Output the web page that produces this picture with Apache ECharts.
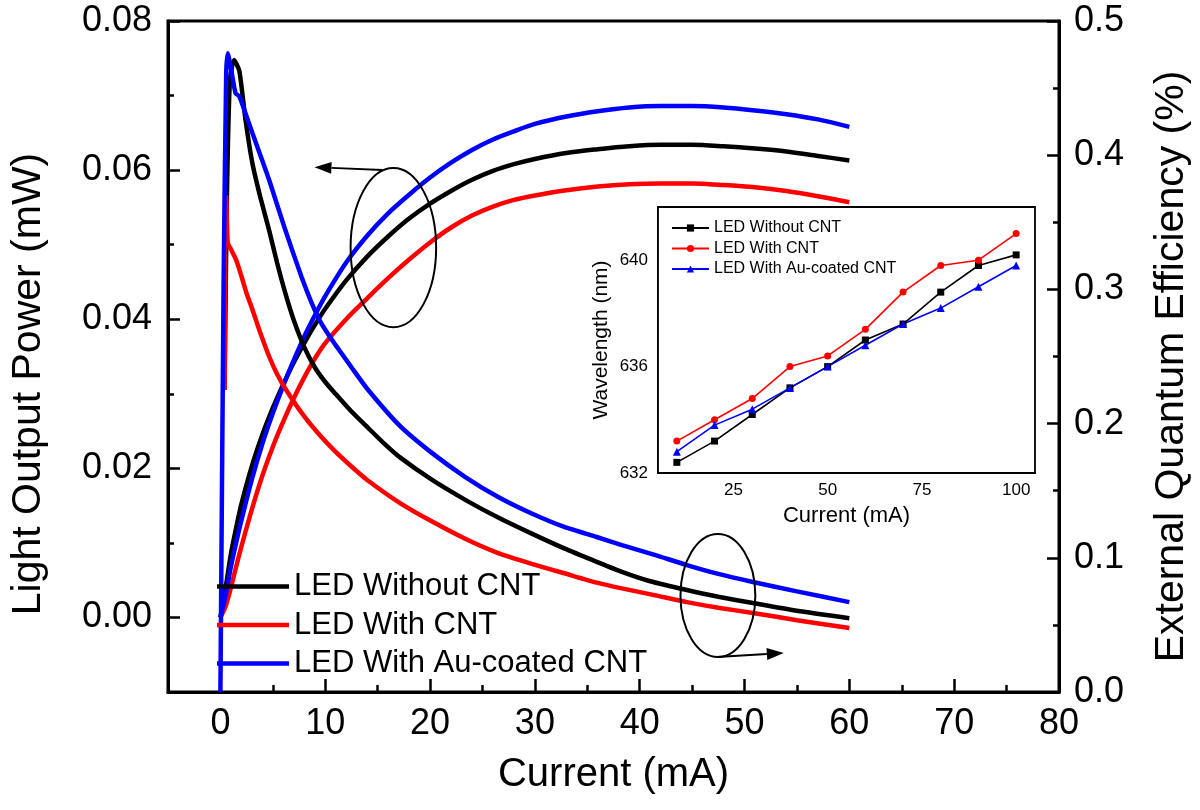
<!DOCTYPE html>
<html>
<head>
<meta charset="utf-8">
<script src="https://cdn.jsdelivr.net/npm/echarts@6/dist/echarts.min.js"></script>
<style>
  html, body { margin: 0; padding: 0; background: #fff; }
  #main { width: 1200px; height: 810px; }
</style>
</head>
<body>
<div id="main"></div>
<script>
var chartDom = document.getElementById('main');
var myChart = echarts.init(chartDom);

var FONT = "'Liberation Sans', Arial, Helvetica, sans-serif";
var names = ['LED Without CNT', 'LED With CNT', 'LED With Au-coated CNT'];
var colors = ['#000000', '#ff0000', '#0000ff'];

// light output power (left axis), shared current values
var powerCurrent = [0, 0.5, 1, 1.5, 2, 3, 4, 5, 6, 7, 8, 9, 10, 12, 14, 16, 18, 20, 22, 24, 26, 28, 30, 33, 36, 39, 42, 45, 48, 51, 54, 57, 60];
var powerBlack = [0, 0.004, 0.0085, 0.012, 0.0152, 0.0203, 0.0245, 0.0281, 0.0313, 0.0342, 0.0368, 0.0392, 0.0414, 0.0452, 0.0484, 0.0511, 0.0535, 0.0555, 0.0572, 0.0587, 0.0599, 0.0608, 0.0615, 0.0623, 0.0628, 0.0632, 0.0634, 0.0634, 0.0632, 0.0629, 0.0625, 0.0619, 0.0613];
var powerRed = [0, 0.0015, 0.004, 0.0068, 0.0095, 0.0145, 0.019, 0.0229, 0.0263, 0.0294, 0.0322, 0.0347, 0.0368, 0.0400, 0.0428, 0.0455, 0.0480, 0.0503, 0.0523, 0.0539, 0.0551, 0.0560, 0.0566, 0.0573, 0.0578, 0.0581, 0.0582, 0.0582, 0.0580, 0.0577, 0.0572, 0.0565, 0.0557];
var powerBlue = [0, 0.003, 0.0068, 0.0100, 0.0130, 0.0185, 0.0233, 0.0274, 0.0311, 0.0345, 0.0377, 0.0405, 0.0431, 0.0476, 0.0512, 0.0542, 0.0567, 0.0590, 0.0610, 0.0627, 0.0641, 0.0652, 0.0662, 0.0672, 0.0679, 0.0684, 0.0686, 0.0686, 0.0684, 0.0680, 0.0675, 0.0668, 0.0658];

// external quantum efficiency (right axis)
var eqeBlackX = [0.4, 0.6, 0.9, 1.3, 1.8, 2.4, 3.05, 3.8, 4.65, 5.4, 6.2, 7.0, 8.0, 9.0, 10.0, 11.0, 12.5, 14, 15.5, 17.1, 20.2, 23.4, 26.5, 29.7, 32.8, 35.9, 38.3, 41, 44.5, 47.5, 50.8, 55, 60];
var eqeBlackY = [0.225, 0.36, 0.455, 0.471, 0.463, 0.426, 0.394, 0.369, 0.344, 0.32, 0.297, 0.277, 0.257, 0.242, 0.231, 0.222, 0.209, 0.1975, 0.186, 0.175, 0.158, 0.143, 0.13, 0.118, 0.107, 0.097, 0.0895, 0.0825, 0.076, 0.071, 0.0663, 0.0605, 0.055];
var eqeRedX = [0.4, 0.45, 0.55, 0.7, 1.0, 1.5, 2.0, 2.5, 3.05, 3.7, 4.65, 5.4, 6.2, 7.75, 9.3, 10.85, 12.5, 14, 17.1, 20.2, 23.4, 26.5, 29.7, 32.8, 35.9, 38.3, 41.5, 44.5, 47.5, 50.8, 55, 60];
var eqeRedY = [0.225, 0.33, 0.369, 0.335, 0.33, 0.322, 0.31, 0.297, 0.285, 0.27, 0.25, 0.237, 0.226, 0.208, 0.193, 0.18, 0.168, 0.158, 0.141, 0.127, 0.114, 0.1035, 0.0955, 0.0885, 0.0815, 0.0772, 0.072, 0.067, 0.0628, 0.0589, 0.0535, 0.0477];
var eqeBlueX = [0, 0.3, 0.55, 0.7, 1.0, 1.45, 1.8, 2.4, 3.05, 4.65, 6.2, 7.75, 8.7, 9.6, 10.85, 12.5, 14, 17.1, 20.2, 23.4, 26.5, 29.7, 32.8, 35.9, 38.3, 41.5, 44.5, 47.5, 50.8, 55, 60];
var eqeBlueY = [0, 0.3, 0.46, 0.476, 0.465, 0.446, 0.444, 0.431, 0.4165, 0.3815, 0.344, 0.309, 0.29, 0.275, 0.26, 0.242, 0.226, 0.1985, 0.178, 0.16, 0.1453, 0.133, 0.123, 0.1155, 0.1095, 0.102, 0.0946, 0.088, 0.082, 0.075, 0.067];

// inset: peak wavelength vs current
var insetCurrent = [10, 20, 30, 40, 50, 60, 70, 80, 90, 100];
var insetBlack = [632.4, 633.2, 634.2, 635.2, 636.0, 637.0, 637.6, 638.8, 639.8, 640.2];
var insetRed = [633.2, 634.0, 634.8, 636.0, 636.4, 637.4, 638.8, 639.8, 640.0, 641.0];
var insetBlue = [632.8, 633.8, 634.4, 635.2, 636.0, 636.8, 637.6, 638.2, 639.0, 639.8];
var insetSymbols = ['rect', 'circle', 'triangle'];

// tick labels
var mainXTicks = [0, 10, 20, 30, 40, 50, 60, 70, 80];
var mainXMinor = [5, 15, 25, 35, 45, 55, 65, 75];
var powerTicks = [0, 0.02, 0.04, 0.06, 0.08];
var powerMinor = [0.01, 0.03, 0.05, 0.07];
var insetXTicks = [25, 50, 75, 100];
var insetXMinor = [12.5, 37.5, 62.5, 87.5];
var insetYTicks = [632, 636, 640];
var insetYMinor = [634, 638];

function zip(xs, ys) { //配对数据
    var out = [];
    for (var i = 0; i < xs.length; i++) {
        out.push([xs[i], ys[i]]);
    }
    return out;
}

var lbl = { color: '#000', fontFamily: FONT };
function minorAxis(base, vals, len, width) { //只画次刻度的辅助轴
    return Object.assign({
        type: 'value',
        axisLine: { show: false, onZero: false },
        axisTick: { show: true, inside: true, length: len, customValues: vals, lineStyle: { color: '#000', width: width } },
        axisLabel: { show: false },
        splitLine: { show: false }
    }, base);
}

var series = [];
var powerData = [powerBlack, powerRed, powerBlue];
for (var i = 0; i < 3; i++) {
    series.push({
        name: names[i], type: 'line', xAxisIndex: 0, yAxisIndex: 0,
        data: zip(powerCurrent, powerData[i]), symbol: 'none', smooth: 0.3,
        color: colors[i], lineStyle: { color: colors[i], width: 4.5 }, z: 3
    });
}
var eqeData = [[eqeBlackX, eqeBlackY], [eqeRedX, eqeRedY], [eqeBlueX, eqeBlueY]];
for (var i = 0; i < 3; i++) {
    series.push({
        name: names[i], type: 'line', xAxisIndex: 0, yAxisIndex: 2,
        data: zip(eqeData[i][0], eqeData[i][1]), symbol: 'none', smooth: 0.2,
        color: colors[i], lineStyle: { color: colors[i], width: 4.5 }, z: 3
    });
}
var insetData = [insetBlack, insetRed, insetBlue];
for (var i = 0; i < 3; i++) {
    series.push({
        name: 'inset|' + names[i], type: 'line', xAxisIndex: 2, yAxisIndex: 3,
        data: zip(insetCurrent, insetData[i]), symbol: insetSymbols[i], symbolSize: i == 2 ? 8 : 7,
        showSymbol: true, color: colors[i], lineStyle: { color: colors[i], width: 1.6 }, z: 5
    });
}

var option = {
    animation: false,
    backgroundColor: '#fff',
    grid: [
        { left: 162, right: 136, top: 21, bottom: 118, show: true, borderColor: '#000', borderWidth: 3, backgroundColor: 'transparent' },
        { left: 658, right: 165, top: 207, bottom: 337, show: true, borderColor: '#000', borderWidth: 1.8, backgroundColor: '#fff', z: 4 }
    ],
    legend: [
        {
            data: names, left: 217, top: 571, orient: 'vertical', icon: 'rect',
            itemWidth: 72, itemHeight: 4.5, itemGap: 7.5, padding: 0,
            textStyle: { fontSize: 31, lineHeight: 31, color: '#000', fontFamily: FONT }
        },
        {
            data: names.map(function(n) { return 'inset|' + n; }), left: 671, top: 220, orient: 'vertical',
            itemWidth: 37, itemHeight: 9, itemGap: 4.5, padding: 0, z: 6,
            formatter: function(n) { return n.replace('inset|', ''); },
            textStyle: { fontSize: 16, lineHeight: 16, color: '#000', fontFamily: FONT }
        }
    ],
    xAxis: [
        {
            type: 'value', gridIndex: 0, min: -5, max: 80, position: 'bottom',
            name: 'Current (mA)', nameLocation: 'middle', nameGap: 63,
            nameTextStyle: { fontSize: 40, color: '#000', fontFamily: FONT },
            axisLine: { show: true, onZero: false, lineStyle: { color: '#000', width: 3 } },
            axisTick: { show: true, inside: true, length: 13, customValues: mainXTicks, lineStyle: { color: '#000', width: 2.5 } },
            axisLabel: Object.assign({ fontSize: 36, margin: 14, customValues: mainXTicks }, lbl),
            splitLine: { show: false }
        },
        minorAxis({ gridIndex: 0, min: -5, max: 80, position: 'bottom' }, mainXMinor, 7, 2.5),
        {
            type: 'value', gridIndex: 1, min: 5, max: 105, position: 'bottom',
            name: 'Current (mA)', nameLocation: 'middle', nameGap: 32,
            nameTextStyle: { fontSize: 22, color: '#000', fontFamily: FONT },
            axisLine: { show: true, onZero: false, lineStyle: { color: '#000', width: 1.8 } },
            axisTick: { show: true, inside: true, length: 8, customValues: insetXTicks, lineStyle: { color: '#000', width: 1.5 } },
            axisLabel: Object.assign({ fontSize: 17, margin: 9, customValues: insetXTicks }, lbl),
            splitLine: { show: false }
        },
        minorAxis({ gridIndex: 1, min: 5, max: 105, position: 'bottom' }, insetXMinor, 4, 1.5)
    ],
    yAxis: [
        {
            type: 'value', gridIndex: 0, min: -0.01, max: 0.08, position: 'left',
            name: 'Light Output Power (mW)', nameLocation: 'middle', nameGap: 119, nameRotate: 90,
            nameTextStyle: { fontSize: 41, color: '#000', fontFamily: FONT, padding: [0, 55, 0, 0] },
            axisLine: { show: true, onZero: false, lineStyle: { color: '#000', width: 3 } },
            axisTick: { show: true, inside: true, length: 12, customValues: powerTicks, lineStyle: { color: '#000', width: 2.5 } },
            axisLabel: Object.assign({ fontSize: 36, margin: 16, customValues: powerTicks, formatter: function(v) { return v.toFixed(2); } }, lbl),
            splitLine: { show: false }
        },
        minorAxis({ gridIndex: 0, min: -0.01, max: 0.08, position: 'left' }, powerMinor, 6, 2.5),
        {
            type: 'value', gridIndex: 0, min: 0, max: 0.5, interval: 0.1, position: 'right',
            name: 'External Quantum Efficiency (%)', nameLocation: 'middle', nameGap: 92, nameRotate: 90,
            nameTextStyle: { fontSize: 41, color: '#000', fontFamily: FONT, padding: [0, 20, 0, 0] },
            axisLine: { show: true, onZero: false, lineStyle: { color: '#000', width: 3 } },
            axisTick: { show: true, inside: true, length: 12, lineStyle: { color: '#000', width: 2.5 } },
            minorTick: { show: true, splitNumber: 2, length: 6, lineStyle: { color: '#000', width: 2.5 } },
            axisLabel: Object.assign({ fontSize: 36, margin: 15, formatter: function(v) { return v.toFixed(1); } }, lbl),
            splitLine: { show: false }, minorSplitLine: { show: false }
        },
        {
            type: 'value', gridIndex: 1, min: 632, max: 642, position: 'left',
            name: 'Wavelength (nm)', nameLocation: 'middle', nameGap: 46, nameRotate: 90,
            nameTextStyle: { fontSize: 21, color: '#000', fontFamily: FONT },
            axisLine: { show: true, onZero: false, lineStyle: { color: '#000', width: 1.8 } },
            axisTick: { show: true, inside: true, length: 9, customValues: insetYTicks, lineStyle: { color: '#000', width: 1.5 } },
            axisLabel: Object.assign({ fontSize: 17, margin: 10, customValues: insetYTicks }, lbl),
            splitLine: { show: false }
        },
        minorAxis({ gridIndex: 1, min: 632, max: 642, position: 'left' }, insetYMinor, 5, 1.5)
    ],
    series: series
};
option && myChart.setOption(option);

// 注释：椭圆和箭头，用数据坐标换算成像素
function px(yIdx, x, y) {
    return myChart.convertToPixel({ xAxisIndex: 0, yAxisIndex: yIdx }, [x, y]);
}
function ellipse(yIdx, cx, cy, rx, ry) {
    var c = px(yIdx, cx, cy), e = px(yIdx, cx + rx, cy + ry);
    return {
        type: 'ellipse', z: 10,
        shape: { cx: c[0], cy: c[1], rx: Math.abs(e[0] - c[0]), ry: Math.abs(e[1] - c[1]) },
        style: { fill: 'none', stroke: '#000', lineWidth: 2 }
    };
}
function arrow(yIdx, x1, y1, x2, y2) {
    var a = px(yIdx, x1, y1), b = px(yIdx, x2, y2);
    var dx = b[0] - a[0], dy = b[1] - a[1], len = Math.sqrt(dx * dx + dy * dy);
    var ux = dx / len, uy = dy / len, hl = 17, hw = 6;
    var base = [b[0] - ux * hl, b[1] - uy * hl];
    return [
        { type: 'line', z: 10, shape: { x1: a[0], y1: a[1], x2: base[0], y2: base[1] }, style: { stroke: '#000', lineWidth: 2 } },
        { type: 'polygon', z: 10, shape: { points: [b, [base[0] - uy * hw, base[1] + ux * hw], [base[0] + uy * hw, base[1] - ux * hw]] }, style: { fill: '#000' } }
    ];
}
var graphics = [ellipse(0, 16.5, 0.0496, 4.08, 0.01067), ellipse(2, 47.46, 0.0719, 3.57, 0.0458)]
    .concat(arrow(0, 15.45, 0.0600, 8.97, 0.0604))
    .concat(arrow(2, 47.37, 0.026, 53.75, 0.029));
myChart.setOption({ graphic: graphics });
</script>
</body>
</html>
